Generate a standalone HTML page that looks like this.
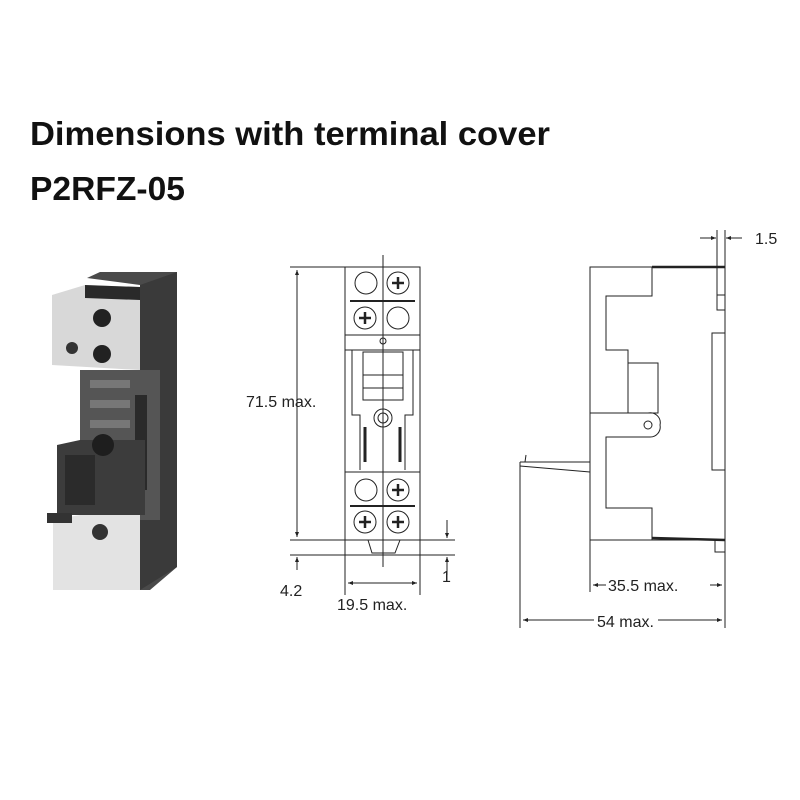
<!DOCTYPE html>
<html><head><meta charset="utf-8"><style>
html,body{margin:0;padding:0;background:#fff;}
svg{display:block;}
text{font-family:"Liberation Sans",Arial,sans-serif;}
</style></head><body>
<svg width="800" height="800" viewBox="0 0 800 800" xmlns="http://www.w3.org/2000/svg">
<defs>
<marker id="a" viewBox="0 0 10 10" refX="10" refY="5" markerWidth="7" markerHeight="5" orient="auto-start-reverse"><path d="M0,1 L10,5 L0,9 z" fill="#222"/></marker>
</defs>
<text x="30" y="145" font-size="33" font-weight="bold" fill="#111" textLength="520" lengthAdjust="spacingAndGlyphs">Dimensions with terminal cover</text>
<text x="30" y="200" font-size="33" font-weight="bold" fill="#111" textLength="155" lengthAdjust="spacingAndGlyphs">P2RFZ-05</text>

<!-- photo -->
<g>
<polygon points="87,278 100,272 177,272 177,567 150,590 140,590 140,285" fill="#4a4a4a"/>
<polygon points="140,285 177,272 177,567 140,590" fill="#3a3a3a"/>
<polygon points="80,370 160,370 160,520 80,520" fill="#555"/>
<rect x="135" y="395" width="12" height="95" fill="#2a2a2a"/>
<polygon points="57,445 80,440 145,440 145,515 57,515" fill="#3c3c3c"/>
<rect x="65" y="455" width="30" height="50" fill="#2b2b2b"/>
<rect x="90" y="380" width="40" height="8" fill="#777"/>
<rect x="90" y="400" width="40" height="8" fill="#777"/>
<rect x="90" y="420" width="40" height="8" fill="#777"/>
<circle cx="103" cy="445" r="11" fill="#1e1e1e"/>
<polygon points="52,295 85,285 140,287 140,370 52,365" fill="#d8d8d8"/>
<polygon points="85,285 140,287 140,300 85,298" fill="#2a2a2a"/>
<circle cx="102" cy="318" r="9" fill="#222"/>
<circle cx="102" cy="354" r="9" fill="#222"/>
<circle cx="72" cy="348" r="6" fill="#333"/>
<polygon points="53,520 80,515 140,515 140,590 53,590" fill="#e3e3e3"/>
<circle cx="100" cy="532" r="8" fill="#333"/>
<rect x="47" y="513" width="25" height="10" fill="#333"/>
</g>

<!-- front view -->
<g fill="none" stroke="#222" stroke-width="1">
<line x1="290" y1="267" x2="345" y2="267"/>
<line x1="297" y1="270" x2="297" y2="537" marker-start="url(#a)" marker-end="url(#a)"/>
<line x1="290" y1="540" x2="455" y2="540"/>
<line x1="290" y1="555" x2="455" y2="555"/>
<line x1="297" y1="570" x2="297" y2="557" marker-end="url(#a)"/>
<line x1="447" y1="520" x2="447" y2="538" marker-end="url(#a)"/>
<line x1="447" y1="575" x2="447" y2="557" marker-end="url(#a)"/>
<line x1="383" y1="255" x2="383" y2="567"/>
<rect x="345" y="267" width="75" height="273"/>
<line x1="345" y1="540" x2="345" y2="595"/>
<line x1="420" y1="540" x2="420" y2="595"/>
<line x1="348" y1="583" x2="417" y2="583" marker-start="url(#a)" marker-end="url(#a)"/>
<line x1="345" y1="335" x2="420" y2="335"/>
<line x1="345" y1="350" x2="420" y2="350"/>
<line x1="345" y1="472" x2="420" y2="472"/>
<rect x="363" y="352" width="40" height="48"/>
<line x1="363" y1="375" x2="403" y2="375"/>
<line x1="363" y1="388" x2="403" y2="388"/>
<circle cx="383" cy="418" r="9"/><circle cx="383" cy="418" r="5"/>
<circle cx="383" cy="341" r="3"/>
<path d="M352,350 V415 H360 V470 M413,350 V415 H405 V470"/>
<path d="M365,427 V462 M400,427 V462" stroke-width="3"/>
<circle cx="366" cy="283" r="11"/><circle cx="398" cy="283" r="11"/><circle cx="365" cy="318" r="11"/><circle cx="398" cy="318" r="11"/>
<circle cx="366" cy="490" r="11"/><circle cx="398" cy="490" r="11"/><circle cx="365" cy="522" r="11"/><circle cx="398" cy="522" r="11"/>
<path d="M392,283 h12 M398,277 v12 M359,318 h12 M365,312 v12 M392,490 h12 M398,484 v12 M359,522 h12 M365,516 v12 M392,522 h12 M398,516 v12" stroke-width="2.5"/>
<line x1="350" y1="301" x2="415" y2="301" stroke-width="2"/>
<line x1="350" y1="506" x2="415" y2="506" stroke-width="2"/>
<path d="M368,540 L372,553 H395 L400,540"/>
</g>
<text x="246" y="407" font-size="16" fill="#222">71.5 max.</text>
<text x="280" y="596" font-size="16" fill="#222">4.2</text>
<text x="442" y="582" font-size="16" fill="#222">1</text>
<text x="337" y="610" font-size="16" fill="#222">19.5 max.</text>

<!-- side view -->
<g fill="none" stroke="#222" stroke-width="1">
<path d="M590,267 H725 V333 H712 V470 H725 V540 H590 Z" fill="none"/>
<line x1="652" y1="267" x2="725" y2="267" stroke-width="2.5"/>
<path d="M652,267 V296 H606 V350 H628 V413"/>
<rect x="628" y="363" width="30" height="50"/>
<path d="M590,413 H648 A10,10 0 0 1 660,425 A10,10 0 0 1 650,437 H606 V508 H652 V540"/>
<circle cx="648" cy="425" r="4"/>
<path d="M520,462 H590 M525,462 L526,455 M590,472 L520,466"/>
<line x1="652" y1="538" x2="725" y2="540" stroke-width="2.5"/>
<rect x="715" y="540" width="10" height="12"/>
<rect x="717" y="295" width="8" height="15"/>
<line x1="520" y1="462" x2="520" y2="628"/>
<line x1="590" y1="540" x2="590" y2="592"/>
<line x1="725" y1="230" x2="725" y2="628"/>
<line x1="717" y1="230" x2="717" y2="300"/>
<line x1="700" y1="238" x2="716" y2="238" marker-end="url(#a)"/>
<line x1="742" y1="238" x2="726" y2="238" marker-end="url(#a)"/>
<line x1="593" y1="585" x2="722" y2="585" marker-start="url(#a)" marker-end="url(#a)"/>
<line x1="523" y1="620" x2="722" y2="620" marker-start="url(#a)" marker-end="url(#a)"/>
</g>
<rect x="606" y="576" width="104" height="18" fill="#fff"/>
<rect x="594" y="611" width="64" height="18" fill="#fff"/>
<text x="608" y="591" font-size="16" fill="#222">35.5 max.</text>
<text x="597" y="627" font-size="16" fill="#222">54 max.</text>
<text x="755" y="244" font-size="16" fill="#222">1.5</text>
</svg>
</body></html>
